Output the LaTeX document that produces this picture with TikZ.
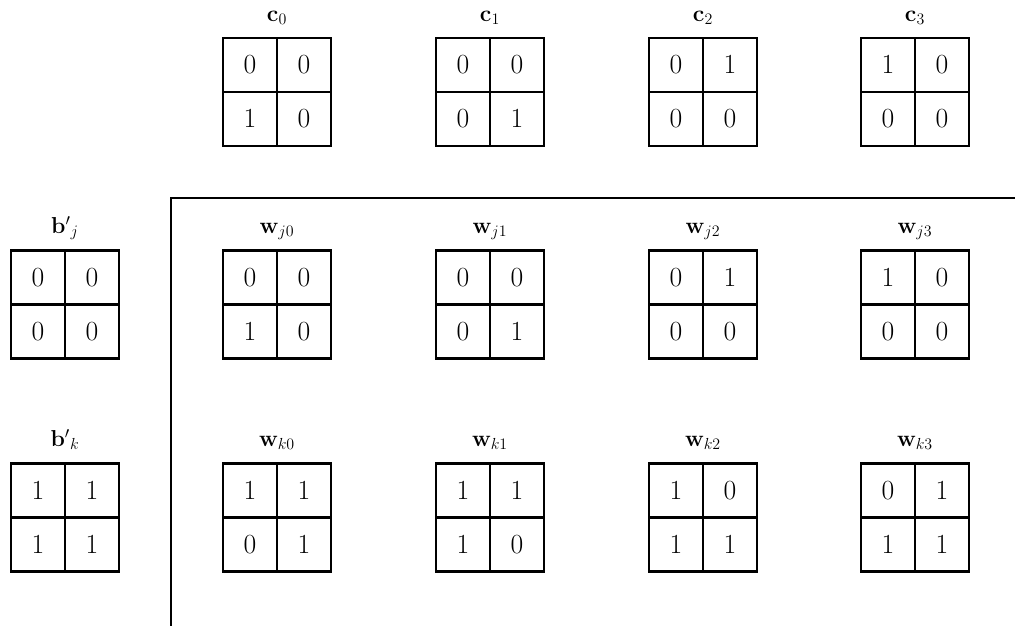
\documentclass[tikz,border=0pt]{standalone}
\usepackage{amsmath}
\tikzset{
  cellbox/.style={draw, line width=2.1pt, minimum size=40.5pt, inner sep=0pt, font=\fontsize{21}{25}\selectfont},
  gridlabel/.style={anchor=base, inner sep=0pt, font=\fontsize{17.5}{21}\selectfont},
  frame/.style={line width=2.1pt}
}
\newcommand{\bitgrid}[8]{%
  % #1 name, #2 cx, #3 cy, #4-#7 cells, #8 label
  \node[cellbox] (#1a) at (#2-27,#3-27) {$#4$};
  \node[cellbox] (#1b) at (#2+27,#3-27) {$#5$};
  \node[cellbox] (#1c) at (#2-27,#3+27) {$#6$};
  \node[cellbox] (#1d) at (#2+27,#3+27) {$#7$};
  \node[gridlabel] (#1l) at (#2,#3-71) {$#8$};
}
\begin{document}
\begin{tikzpicture}[x=0.75pt,y=-0.75pt]
\useasboundingbox (0,0) rectangle (1015,626);
% top row: c
\bitgrid{c0}{277}{92}{0}{0}{1}{0}{\mathbf{c}_0}
\bitgrid{c1}{490}{92}{0}{0}{0}{1}{\mathbf{c}_1}
\bitgrid{c2}{703}{92}{0}{1}{0}{0}{\mathbf{c}_2}
\bitgrid{c3}{915}{92}{1}{0}{0}{0}{\mathbf{c}_3}
% b' column
\bitgrid{bj}{65}{304.5}{0}{0}{0}{0}{\mathbf{b}'{}_j}
\bitgrid{bk}{65}{517.5}{1}{1}{1}{1}{\mathbf{b}'{}_k}
% w_j row
\bitgrid{wj0}{277}{304.5}{0}{0}{1}{0}{\mathbf{w}_{j0}}
\bitgrid{wj1}{490}{304.5}{0}{0}{0}{1}{\mathbf{w}_{j1}}
\bitgrid{wj2}{703}{304.5}{0}{1}{0}{0}{\mathbf{w}_{j2}}
\bitgrid{wj3}{915}{304.5}{1}{0}{0}{0}{\mathbf{w}_{j3}}
% w_k row
\bitgrid{wk0}{277}{517.5}{1}{1}{0}{1}{\mathbf{w}_{k0}}
\bitgrid{wk1}{490}{517.5}{1}{1}{1}{0}{\mathbf{w}_{k1}}
\bitgrid{wk2}{703}{517.5}{1}{0}{1}{1}{\mathbf{w}_{k2}}
\bitgrid{wk3}{915}{517.5}{0}{1}{1}{1}{\mathbf{w}_{k3}}
% frame lines
\coordinate (corner) at (171,198);
\coordinate (rightend) at (1015,198);
\coordinate (bottomend) at (171,626);
\draw[frame] (rightend) -- (corner) -- (bottomend);
\end{tikzpicture}
\end{document}
